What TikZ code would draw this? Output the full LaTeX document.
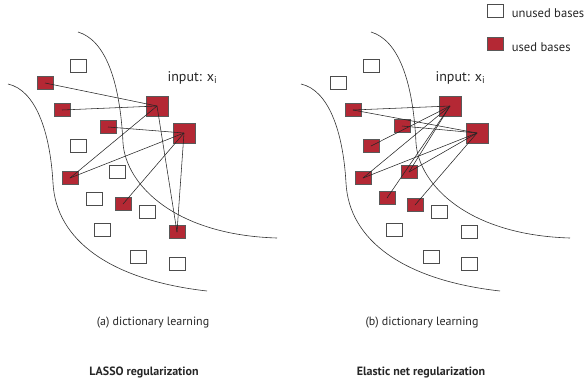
\documentclass[tikz,border=0pt]{standalone}
\usepackage{fontspec}
\setmainfont{PT Sans}
\usetikzlibrary{positioning}
\definecolor{basered}{RGB}{180,40,52}
\begin{document}
\begin{tikzpicture}[x=1pt, y=-1pt,
    every node/.style={font=\fontsize{12}{14}\selectfont, text=black!85},
    unused/.style={draw=black!70, fill=white, line width=0.7pt,
        minimum width=16pt, minimum height=13pt, inner sep=0pt},
    used/.style={unused, fill=basered, draw=black!65},
    usedbig/.style={used, minimum width=22pt, minimum height=20pt},
    link/.style={line width=0.55pt, black!85},
    border/.style={line width=0.6pt, black!80},
    inputlabel/.style={anchor=base west, font=\fontsize{14}{16}\selectfont},
    keylabel/.style={anchor=base west, font=\fontsize{12.6}{15}\selectfont},
    regname/.style={font=\fontsize{12}{14}\selectfont\bfseries}]
    \useasboundingbox (0,0) rectangle (587,384);

    % boundaries of both panels
    \foreach \s in {0,293}{
        \begin{scope}[xshift=\s]
            \draw[border] (78,32) .. controls (105,40) and (120,80) .. (123,143)
                .. controls (126,185) and (175,235) .. (277,238);
            \draw[border] (8,84) .. controls (35,90) and (50,130) .. (53,183)
                .. controls (56,240) and (110,280) .. (207,291);
        \end{scope}
    }

    % (a) LASSO
    \foreach \p [count=\i] in {(78,66),(78,146),(117,172),(94,199),(147,212),(102,230),(138,257),(177,264)}
        \node[unused] (lu\i) at \p {};
    \node[used] (la1) at (45,83) {};
    \node[used] (la2) at (62,110) {};
    \node[used] (la3) at (108,127) {};
    \node[used] (la4) at (70,178) {};
    \node[used] (la5) at (123,204) {};
    \node[used] (la6) at (177,232) {};
    \node[usedbig] (lb1) at (157,106) {};
    \node[usedbig] (lb2) at (184,133) {};
    \foreach \a/\b in {la1/lb1,la2/lb1,la3/lb2,la4/lb1,la4/lb2,la5/lb2,la6/lb1,la6/lb2}
        \draw[link] (\a.center) -- (\b.center);
    \node[inputlabel] (inpa) at (164,81) {input: x\textsubscript{i}};

    % (b) elastic net
    \foreach \p [count=\i] in {(371,66),(338,83),(439,212),(394,230),(469,232),(431,257),(469,264)}
        \node[unused] (ru\i) at \p {};
    \node[used] (ra1) at (353,110) {};
    \node[used] (ra2) at (402,126) {};
    \node[used] (ra3) at (371,146) {};
    \node[used] (ra4) at (363,178) {};
    \node[used] (ra5) at (409,172) {};
    \node[used] (ra6) at (387,198) {};
    \node[used] (ra7) at (415,205) {};
    \node[usedbig] (rb1) at (450,106) {};
    \node[usedbig] (rb2) at (477,133) {};
    \foreach \a/\b in {ra1/rb1,ra1/rb2,ra2/rb2,ra3/rb1,ra4/rb1,ra4/rb2,ra5/rb1,ra5/rb2,ra6/rb1,ra7/rb2}
        \draw[link] (\a.center) -- (\b.center);
    \node[inputlabel] (inpb) at (432,81) {input: x\textsubscript{i}};

    % legend
    \node[unused] (keyu) at (495,11) {};
    \node[keylabel] (keyut) at ([xshift=5pt,yshift=-6.5pt]keyu.east) {unused bases};
    \node[used] (keyr) at (495,44) {};
    \node[keylabel] (keyrt) at ([xshift=5pt,yshift=-7pt]keyr.east) {used bases};

    % captions
    \node (capa) at (153,323) {(a) dictionary learning};
    \node (capb) at (422,323) {(b) dictionary learning};
    \node[regname] (rega) at (144,372) {LASSO regularization};
    \node[regname] (regb) at (421,372) {Elastic net regularization};
\end{tikzpicture}
\end{document}
